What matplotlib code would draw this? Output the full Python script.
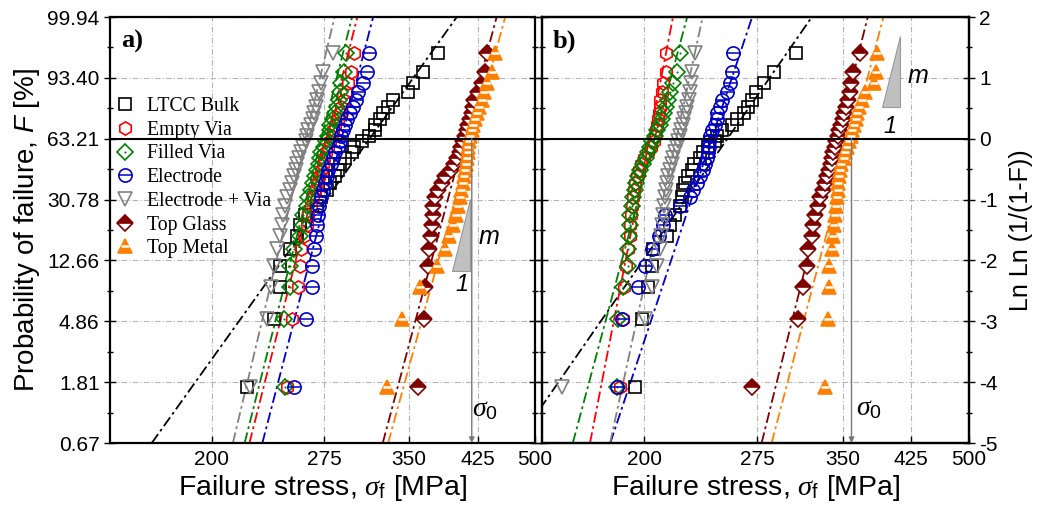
import numpy as np
import matplotlib.pyplot as plt

plt.rcParams['font.family'] = 'Liberation Sans'
plt.rcParams['mathtext.fontset'] = 'custom'
plt.rcParams['mathtext.rm'] = 'Liberation Sans'
plt.rcParams['mathtext.it'] = 'Liberation Serif:italic'
plt.rcParams['mathtext.sf'] = 'Liberation Sans:italic'

groups = ['LTCC Bulk', 'Empty Via', 'Filled Via', 'Electrode',
          'Electrode + Via', 'Top Glass', 'Top Metal']

# failure stress [MPa], 30 specimens per group, sorted
# a) panel
ltcc_a = [221, 239, 243, 243, 250, 255, 257, 260.5, 270, 273, 277, 280, 284, 286, 288,
          292, 298, 299, 306, 312, 318, 318, 322, 325, 330, 334, 349, 354, 364, 380]
empty_a = [247.7, 251, 255.6, 257, 258, 260, 262, 262.5, 265, 266.5, 268, 269.5, 271, 272.5, 274,
           275, 276.5, 278, 279.5, 281, 282.5, 284, 286, 287.5, 289, 291, 292.5, 294, 296.5, 299]
filled_a = [246, 245.5, 249.5, 250, 252.5, 257, 259, 259.5, 262, 263, 265, 266.5, 268, 269.5, 271,
            272, 273, 275, 276.5, 278, 279.5, 280, 282, 283.5, 285, 287, 288, 289, 291, 292.5]
electrode_a = [252.6, 261, 266, 266, 267, 268.5, 270, 270.5, 271.5, 273, 274.5, 276, 277, 278.5, 280.5,
               282, 284, 286, 287.5, 289, 290, 292, 293.5, 296, 298.5, 301, 303, 307, 311, 312]
elvia_a = [223, 234, 236.5, 239, 241, 243, 244.5, 245, 246, 248, 249.5, 251, 252.5, 254, 255,
           256.5, 258, 259.5, 261, 262, 263, 265, 266.5, 267.5, 269, 270, 271, 272.5, 274, 282]
glass_a = [359, 365, 366, 369, 370, 372, 373.5, 374, 375, 377, 380, 384, 388, 394, 398,
           401, 404, 406, 408, 410, 412, 414, 416, 418, 419, 421, 425, 430, 434, 436]
metal_a = [329, 343, 361, 379, 388, 392, 396, 400, 402, 404, 406, 408, 409, 410, 411,
           412, 413, 414, 415, 416, 418, 420, 422, 424, 427, 430, 433, 436, 443, 447]

# b) panel
ltcc_b = [195, 199, 202, 204.5, 205, 213.5, 215.2, 218, 221.4, 222.5, 223, 224.7, 226.5, 228.7, 230.5,
          234, 236, 239.5, 244, 246, 249.5, 256.5, 260, 265, 268, 271, 274.5, 280.5, 288.4, 307]
empty_b = [187, 188.5, 189, 190, 191, 192, 192.5, 193, 193.5, 194, 194.5, 195, 196, 197, 198.5,
           200, 202, 204, 205.5, 206.5, 207, 207.5, 208, 208.5, 209, 209.5, 210.5, 211, 212.5, 213]
filled_b = [185.3, 185.8, 188.5, 191, 191.2, 191.7, 192.2, 192.5, 193.2, 194, 195, 195.5, 196.5, 198, 199.5,
            201, 202.5, 203.4, 204.5, 206.3, 207.5, 209.2, 210.5, 211.5, 212.8, 214, 215.2, 217, 219.5, 221.4]
electrode_b = [185.3, 187.9, 196.4, 200.6, 204.5, 208.5, 211, 212.2, 221.4, 227.7, 229.5, 232, 234.2, 236, 237.5,
               239, 239.5, 240, 240.5, 241, 242.5, 244, 245.5, 246, 247.5, 249.5, 253, 254.8, 256.5, 257]
elvia_b = [158.7, 200.6, 204.5, 207.7, 209, 210, 210.5, 211, 211.5, 212, 212.5, 213.5, 214, 215.2, 216.5,
           217, 218, 219.5, 220, 221.4, 222, 223, 224, 225, 226, 227, 227.7, 228.5, 229, 231]
glass_b = [271, 308.5, 313, 317, 318, 321, 322, 324, 327, 328.5, 331, 333, 335, 337, 338.5,
           340, 341, 342.5, 344, 345.5, 347, 348.5, 350, 351.5, 353, 355, 357.5, 358.5, 360.5, 367.5]
metal_b = [333, 336, 336.5, 337, 339.5, 340.5, 342, 343, 344, 345, 345.5, 346, 347, 348, 349,
           351, 352.5, 354, 356, 358, 360, 362, 363.5, 365, 367, 370, 372.5, 383, 385, 386]

# Weibull fits: modulus m and characteristic strength sigma_0 [MPa]
m_a = [8.1, 22.9, 23.0, 22.3, 24.3, 21.7, 21.1]
s0_a = [313, 277, 273, 289, 261, 409, 418]
m_b = [8.4, 29.9, 21.7, 17.5, 26.8, 23.4, 22.2]
s0_b = [253, 203, 206, 242, 219, 345, 359]

yticks = [-5, -4, -3, -2, -1, 0, 1, 2]
f_labels = ['0.67', '1.81', '4.86', '12.66', '30.78', '63.21', '93.40', '99.94']
xticks = [200, 275, 350, 425, 500]

colors = ['black', 'red', 'green', '#0000c8', 'gray', '#800000', '#ff8000']
marker_styles = [
    dict(marker='s', mfc='none', ms=8.5),
    dict(marker='h', mfc='none', ms=9.5),
    dict(marker='D', mfc='none', ms=8),
    dict(marker='o', mfc='none', ms=9.5),
    dict(marker='v', mfc='none', ms=10),
    dict(marker='D', fillstyle='top', mfc='#800000', markerfacecoloralt='white', ms=8.5),
    dict(marker='^', ms=10),
]
overlay_styles = [None, None,
                  dict(marker='.', ms=3, mew=0),
                  dict(marker='_', ms=9.5, mew=1.1),
                  None, None,
                  dict(marker='_', ms=5.5, mew=1.8)]
overlay_colors = [None, None, 'green', '#0000c8', None, None, 'white']

# median rank probability for 30 specimens
n = 30
F = (np.arange(1, n + 1) - 0.5) / n
lnln = np.log(-np.log(1 - F))

fig = plt.figure(figsize=(10.4, 5.13), dpi=100)
ax1 = fig.add_axes([110 / 1040, 70 / 513, 425 / 1040, 426 / 513])
ax2 = fig.add_axes([542 / 1040, 70 / 513, 427 / 1040, 426 / 513])

dash = (0, (6, 2, 1.5, 2))


def draw_panel(ax, data, m, s0, tag):
    ax.set_xscale('log')
    ax.set_xlim(150, 500)
    ax.set_ylim(-5, 2)
    yy = np.array([-5.0, 2.0])
    handles = []
    for k in range(len(groups)):
        xx = s0[k] * np.exp(yy / m[k])
        ax.plot(xx, yy, color=colors[k], ls=dash, lw=1.3, zorder=2)
    for k in range(len(groups)):
        h = ax.plot(data[k], lnln, ls='none', mec=colors[k], mew=1.2,
                    color=colors[k], zorder=3 + k, **marker_styles[k])[0]
        if overlay_styles[k] is not None:
            o = ax.plot(data[k], lnln, ls='none', color=overlay_colors[k],
                        zorder=3 + k, **overlay_styles[k])[0]
            handles.append((h, o))
        else:
            handles.append(h)
    ax.axhline(0, color='black', lw=1.5, zorder=10)
    ax.set_xticks(xticks)
    ax.set_xticklabels([str(v) for v in xticks])
    ax.xaxis.set_minor_locator(plt.NullLocator())
    ax.set_yticks(yticks)
    ax.set_yticks(np.arange(-4.5, 2, 1.0), minor=True)
    ax.grid(True, which='major', color='#b4b4b4', ls=(0, (5, 2, 1, 2)), lw=0.8)
    ax.set_axisbelow(True)
    for sp in ax.spines.values():
        sp.set_linewidth(1.6)
    ax.tick_params(axis='x', direction='in', length=5, width=1, labelsize=15, pad=5)
    ax.tick_params(axis='y', which='major', direction='inout', length=8, width=1, right=True)
    ax.tick_params(axis='y', which='minor', direction='inout', length=5, width=1, right=True)
    ax.text(0.025, 0.97, tag, transform=ax.transAxes, ha='left', va='top',
            fontsize=19, fontweight='bold', family='Liberation Serif', zorder=12)
    ax.set_xlabel(r'Failure stress, $\mathit{\sigma}_\mathrm{f}$ [MPa]', fontsize=20.5, labelpad=3)
    # sigma_0 marker of Top Metal
    ax.annotate('', xy=(s0[6], -5), xytext=(s0[6], 0),
                arrowprops=dict(arrowstyle='-|>', color='#777777', lw=1.0,
                                mutation_scale=8, shrinkA=0, shrinkB=0), zorder=11)
    return handles


data_a = [ltcc_a, empty_a, filled_a, electrode_a, elvia_a, glass_a, metal_a]
data_b = [ltcc_b, empty_b, filled_b, electrode_b, elvia_b, glass_b, metal_b]
handles = draw_panel(ax1, data_a, m_a, s0_a, 'a)')
draw_panel(ax2, data_b, m_b, s0_b, 'b)')

ax1.set_yticklabels(f_labels, fontsize=15)
ax1.set_ylabel(r'Probability of failure, $\mathsf{F}$ [%]', fontsize=20, labelpad=4)
ax2.set_yticklabels([])

ax2r = ax2.twinx()
ax2r.set_ylim(-5, 2)
ax2r.set_yticks(yticks)
ax2r.set_yticks(np.arange(-4.5, 2, 1.0), minor=True)
ax2r.set_yticklabels([str(v) for v in yticks], fontsize=15)
ax2r.tick_params(axis='y', which='major', direction='inout', length=8, width=1)
ax2r.tick_params(axis='y', which='minor', direction='inout', length=5, width=1)
ax2r.set_ylabel('Ln Ln (1/(1-F))', fontsize=18, labelpad=8)
for sp in ax2r.spines.values():
    sp.set_linewidth(1.6)

# slope triangles and labels
tri_a = ([395, 416, 416], [-2.18, -2.18, -0.985])
tri_b = ([391, 411.6, 411.6], [0.525, 0.525, 1.69])
ax1.fill(tri_a[0], tri_a[1], facecolor='#c0c0c0', edgecolor='#999999', lw=0.8, zorder=11)
ax2.fill(tri_b[0], tri_b[1], facecolor='#c0c0c0', edgecolor='#999999', lw=0.8, zorder=11)
for ax, pm, p1, ps in [(ax1, (426, -1.62), (406, -2.4), (434, -4.45)),
                       (ax2, (421, 1.03), (400, 0.2), (377, -4.42))]:
    ax.text(pm[0], pm[1], 'm', fontsize=18, style='italic', ha='left', va='center', zorder=12)
    ax.text(p1[0], p1[1], '1', fontsize=17, style='italic', ha='center', va='center', zorder=12)
    ax.text(ps[0], ps[1], r'$\mathit{\sigma}_0$', fontsize=20, ha='center', va='center', zorder=12)

ax1.legend(handles, groups, loc='upper left', bbox_to_anchor=(-0.02, 0.84), frameon=False,
           prop={'family': 'Liberation Serif', 'size': 14.2}, handletextpad=0.5,
           labelspacing=0.24, handlelength=1.2, borderaxespad=0.2)

fig.savefig('out.png', dpi=100)
